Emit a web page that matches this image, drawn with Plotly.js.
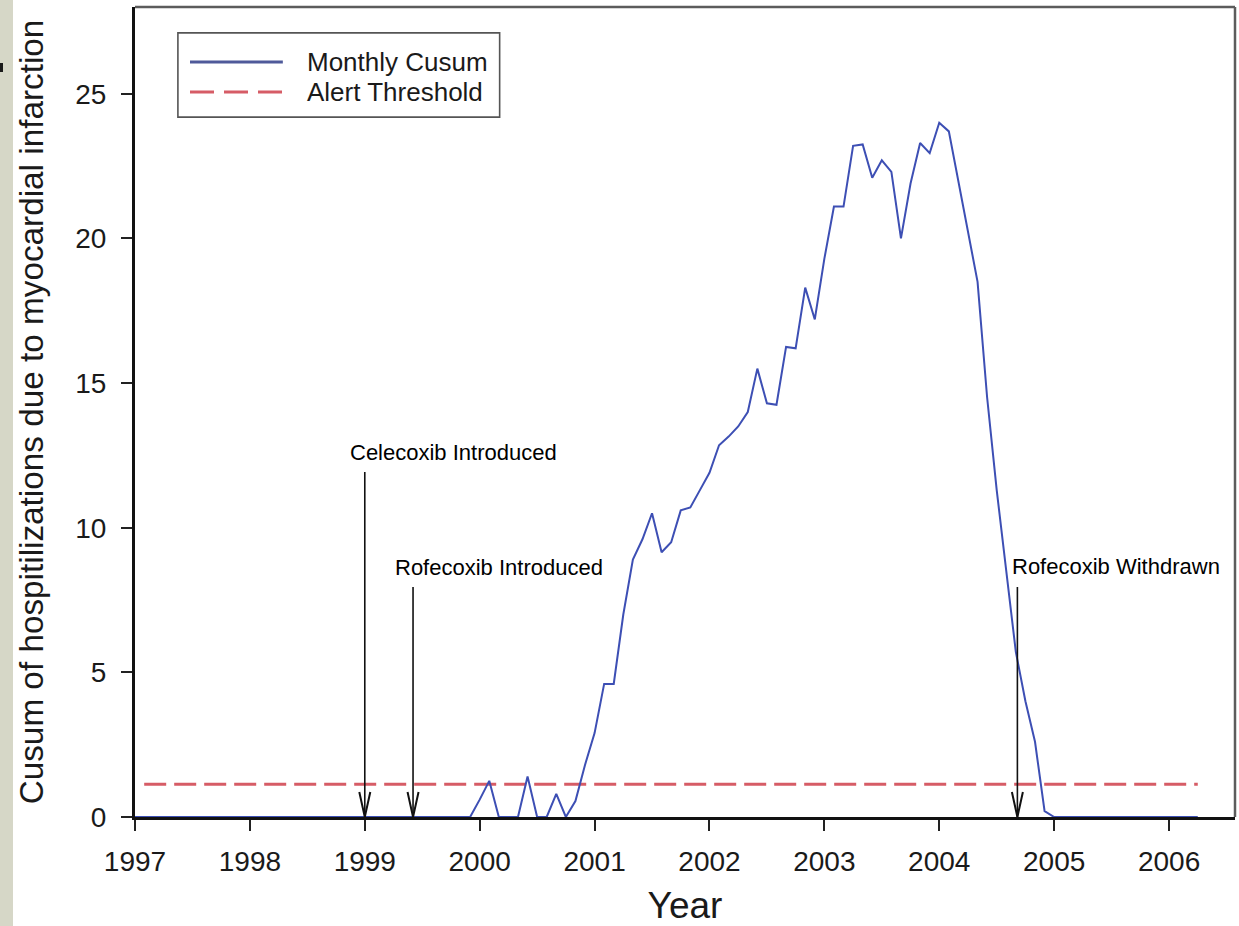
<!DOCTYPE html>
<html>
<head>
<meta charset="utf-8">
<script src="https://cdn.plot.ly/plotly-3.0.1.min.js"></script>
<style>
  html, body { margin: 0; padding: 0; background: #ffffff; }
  #wrap { position: relative; width: 1239px; height: 926px; overflow: hidden; }
  #chart { position: absolute; left: 0; top: 0; width: 1239px; height: 926px; }
  #strip { position: absolute; left: 0; top: 0; width: 13px; height: 926px; background: #d6d7c7; z-index: 5; }
  #strip-mark { position: absolute; left: 0; top: 63px; width: 3px; height: 9px; background: #1a1a1a; }
</style>
</head>
<body>
<div id="wrap">
  <div id="chart"></div>
  <div id="strip"><div id="strip-mark"></div></div>
</div>
<script>
// Monthly CUSUM of hospitalizations for myocardial infarction, Jan 1997 – Apr 2006
const startYear = 1997;
const monthlyCusum = [
  // 1997
  0, 0, 0, 0, 0, 0, 0, 0, 0, 0, 0, 0,
  // 1998
  0, 0, 0, 0, 0, 0, 0, 0, 0, 0, 0, 0,
  // 1999
  0, 0, 0, 0, 0, 0, 0, 0, 0, 0, 0, 0,
  // 2000
  0.6, 1.25, 0, 0, 0, 1.4, 0, 0, 0.8, 0, 0.55, 1.8,
  // 2001
  2.9, 4.6, 4.6, 7.0, 8.9, 9.6, 10.5, 9.15, 9.5, 10.6, 10.7, 11.3,
  // 2002
  11.9, 12.85, 13.15, 13.5, 14.0, 15.5, 14.3, 14.25, 16.25, 16.2, 18.3, 17.2,
  // 2003
  19.3, 21.1, 21.1, 23.2, 23.25, 22.1, 22.7, 22.3, 20.0, 21.9, 23.3, 22.95,
  // 2004
  24.0, 23.7, 22.0, 20.3, 18.5, 14.5, 11.3, 8.5, 5.7, 4.0, 2.6, 0.2,
  // 2005
  0, 0, 0, 0, 0, 0, 0, 0, 0, 0, 0, 0,
  // 2006
  0, 0, 0, 0
];
const monthYears = monthlyCusum.map((_, i) => startYear + i / 12);

// Alert threshold
const thresholdYears = [1997.08, 2006.25];
const thresholdValues = [1.13, 1.13];

// Key events
const eventNames = ['Celecoxib Introduced', 'Rofecoxib Introduced', 'Rofecoxib Withdrawn'];
const eventYears = [1999.0, 1999.42, 2004.68];

// Axis ticks
const xTickVals = [1997, 1998, 1999, 2000, 2001, 2002, 2003, 2004, 2005, 2006];
const yTickVals = [0, 5, 10, 15, 20, 25];

const seriesNames = ['Monthly Cusum', 'Alert Threshold'];
const cusumColor = '#3d4fb4';
const thresholdColor = '#d65c66';
const FONT = '"Liberation Sans", Arial, sans-serif';

const traces = [
  {
    x: thresholdYears, y: thresholdValues, name: seriesNames[1],
    type: 'scatter', mode: 'lines',
    line: { color: thresholdColor, width: 3, dash: '22px,8px' },
    hoverinfo: 'skip'
  },
  {
    x: monthYears, y: monthlyCusum, name: seriesNames[0],
    type: 'scatter', mode: 'lines',
    line: { color: cusumColor, width: 2 }
  }
];

// Label and arrow placement for each event (text left edge, text height, arrow top)
const eventPlacement = [
  { textX: 1998.855, textY: 12.6, arrowTop: 11.93 },
  { textX: 1999.245, textY: 8.61, arrowTop: 7.95 },
  { textX: 2004.615, textY: 8.65, arrowTop: 7.95 }
];

const shapes = [];
const annotations = [];

eventNames.forEach((name, i) => {
  const p = eventPlacement[i];
  annotations.push({
    x: p.textX, y: p.textY, xref: 'x', yref: 'y',
    xanchor: 'left', yanchor: 'middle', showarrow: false,
    text: name, font: { family: FONT, size: 22, color: '#000000' }
  });
  // arrow shaft
  shapes.push({
    type: 'line', xref: 'x', yref: 'y',
    x0: eventYears[i], x1: eventYears[i], y0: 0, y1: p.arrowTop,
    line: { color: '#111111', width: 1.6 }
  });
  // open arrowhead, sized in pixels
  shapes.push({
    type: 'path', xref: 'x', yref: 'y',
    xsizemode: 'pixel', ysizemode: 'pixel',
    xanchor: eventYears[i], yanchor: 0,
    path: 'M-5.5,25 L0,0 L5.5,25',
    line: { color: '#111111', width: 2 }
  });
});

// Frame: grey top and right borders
shapes.push({
  type: 'line', xref: 'paper', yref: 'paper', x0: 0, x1: 1, y0: 1, y1: 1,
  line: { color: '#5c5c5c', width: 2.5 }
});
shapes.push({
  type: 'line', xref: 'paper', yref: 'paper', x0: 1, x1: 1, y0: 0, y1: 1,
  line: { color: '#5c5c5c', width: 2.5 }
});

// Legend box
const lg = { x0: 0.039, x1: 0.3315, y0: 0.864, y1: 0.968, sx0: 0.05, sx1: 0.1344, tx: 0.1544, rows: [0.932, 0.895] };
shapes.push({
  type: 'rect', xref: 'paper', yref: 'paper',
  x0: lg.x0, x1: lg.x1, y0: lg.y0, y1: lg.y1,
  line: { color: '#555555', width: 1.6 }, fillcolor: 'rgba(255,255,255,0)'
});
shapes.push({
  type: 'line', xref: 'paper', yref: 'paper',
  x0: lg.sx0, x1: lg.sx1, y0: lg.rows[0], y1: lg.rows[0],
  line: { color: '#4f5a9a', width: 3 }
});
shapes.push({
  type: 'line', xref: 'paper', yref: 'paper',
  x0: lg.sx0, x1: lg.sx1, y0: lg.rows[1], y1: lg.rows[1],
  line: { color: thresholdColor, width: 3, dash: '24px,10px' }
});
seriesNames.forEach((name, i) => {
  annotations.push({
    x: lg.tx, y: lg.rows[i], xref: 'paper', yref: 'paper',
    xanchor: 'left', yanchor: 'middle', showarrow: false,
    text: name, font: { family: FONT, size: 26, color: '#1a1a1a' }
  });
});

const layout = {
  width: 1239, height: 926,
  margin: { l: 135, r: 4, t: 7, b: 109, pad: 0 },
  paper_bgcolor: '#ffffff', plot_bgcolor: '#ffffff',
  showlegend: false,
  font: { family: FONT, color: '#1a1a1a' },
  xaxis: {
    range: [1997, 2006.574],
    tickmode: 'array', tickvals: xTickVals, ticktext: xTickVals.map(String),
    ticks: 'outside', ticklen: 11, tickwidth: 2, tickcolor: '#222222',
    ticklabelstandoff: 6,
    tickfont: { family: FONT, size: 28, color: '#1a1a1a' },
    showline: true, linecolor: '#111111', linewidth: 3,
    showgrid: false, zeroline: false, layer: 'below traces',
    title: { text: 'Year', font: { family: FONT, size: 37, color: '#1a1a1a' }, standoff: 22 }
  },
  yaxis: {
    range: [0, 28],
    tickmode: 'array', tickvals: yTickVals, ticktext: yTickVals.map(String),
    ticks: 'outside', ticklen: 11, tickwidth: 2, tickcolor: '#222222',
    ticklabelstandoff: 9,
    tickfont: { family: FONT, size: 28, color: '#1a1a1a' },
    showline: true, linecolor: '#111111', linewidth: 3,
    showgrid: false, zeroline: false, layer: 'below traces',
    title: { text: 'Cusum of hospitilizations due to myocardial infarction',
             font: { family: FONT, size: 33.3, color: '#1a1a1a' }, standoff: 22 }
  },
  shapes: shapes,
  annotations: annotations
};

Plotly.newPlot('chart', traces, layout, { displayModeBar: false, staticPlot: true });
</script>
</body>
</html>
